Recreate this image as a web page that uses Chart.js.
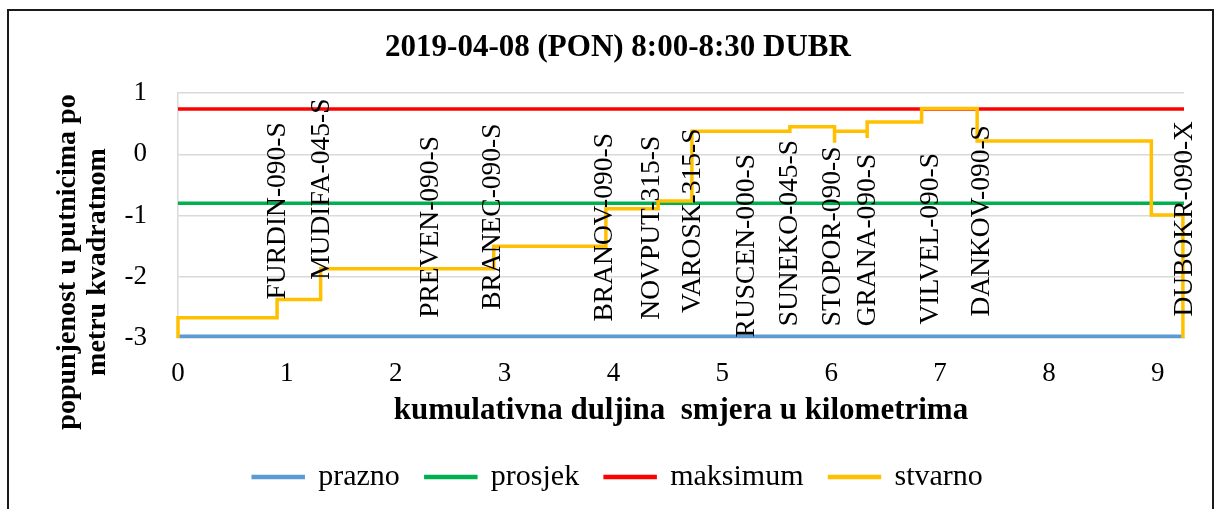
<!DOCTYPE html>
<html><head><meta charset="utf-8">
<script src="https://cdn.jsdelivr.net/npm/chart.js@4.4.1/dist/chart.umd.min.js"></script>
<style>
html,body{margin:0;padding:0;background:#fff;}
#wrap{position:relative;width:1219px;height:509px;overflow:hidden;background:#fff;}
#frame{position:absolute;left:7px;top:9px;width:1203px;height:540px;border:2px solid #1a1a1a;}
#c{position:absolute;left:0;top:0;}
</style></head><body>
<div id="wrap"><div id="frame"></div><canvas id="c" width="1219" height="509"></canvas></div>
<script>
// ---- data ----
const chartTitle = '2019-04-08 (PON) 8:00-8:30 DUBR';
const xTitle = 'kumulativna duljina  smjera u kilometrima';
const yTitle = ['popunjenost u putnicima po', 'metru kvadratnom'];
const seriesNames = ['prazno', 'prosjek', 'maksimum', 'stvarno'];
const xRange = [0, 9.24];
const prazno = [-2.97, -2.97];
const prosjek = [-0.80, -0.80];
const maksimum = [0.74, 0.74];
const stvarnoKm = [0, 0, 0.91, 1.31, 2.90, 3.93, 4.41, 4.72, 5.62, 6.03, 6.03, 6.33, 6.33, 6.83, 7.34, 8.94, 9.23];
const stvarnoVal = [-3.00, -2.67, -2.37, -1.87, -1.50, -0.89, -0.76, 0.38, 0.45, 0.19, 0.38, 0.27, 0.53, 0.75, 0.22, -0.99, -3.00];
const stations = ['FURDIN-090-S','MUDIFA-045-S','PREVEN-090-S','BRANEC-090-S','BRANOV-090-S','NOVPUT-315-S','VAROSK-315-S','RUSCEN-000-S','SUNEKO-045-S','STOPOR-090-S','GRANA-090-S','VILVEL-090-S','DANKOV-090-S','DUBOKR-090-X'];
const stationKm = [0.92, 1.32, 2.32, 2.89, 3.92, 4.35, 4.73, 5.22, 5.62, 6.01, 6.34, 6.91, 7.38, 9.25];
const stationLevel = [-2.37, -2.05, -2.67, -2.54, -2.73, -2.70, -2.59, -2.99, -2.81, -2.81, -2.81, -2.78, -2.65, -2.65];
const yTicks = [-3, -2, -1, 0, 1];
const xTicks = [0, 1, 2, 3, 4, 5, 6, 7, 8, 9];

const colors = ['#5b9bd5', '#00b050', '#ff0000', '#ffc000'];
const SERIF = '"Liberation Serif", "Times New Roman", serif';

function flat(vals) { return vals.map((v, i) => ({x: xRange[i], y: v})); }
const stvarnoPts = stvarnoKm.map((k, i) => ({x: k, y: stvarnoVal[i]}));

const stationLabels = {
  id: 'stationLabels',
  afterDatasetsDraw(chart) {
    const {ctx, scales: {x, y}} = chart;
    ctx.save();
    ctx.font = '27.5px ' + SERIF;
    ctx.fillStyle = '#000';
    ctx.textAlign = 'left';
    ctx.textBaseline = 'middle';
    stations.forEach((name, i) => {
      ctx.save();
      ctx.translate(x.getPixelForValue(stationKm[i]), y.getPixelForValue(stationLevel[i]));
      ctx.rotate(-Math.PI / 2);
      ctx.fillText(name, 0, 0);
      ctx.restore();
    });
    ctx.restore();
  }
};

const yAxisTitle = {
  id: 'yAxisTitle',
  afterDraw(chart) {
    const {ctx} = chart;
    ctx.save();
    ctx.font = 'bold 28px ' + SERIF;
    ctx.fillStyle = '#000';
    ctx.textAlign = 'center';
    ctx.textBaseline = 'middle';
    const centers = [68, 98];
    yTitle.forEach((line, i) => {
      ctx.save();
      ctx.translate(centers[i], 262);
      ctx.rotate(-Math.PI / 2);
      ctx.fillText(line, 0, 0);
      ctx.restore();
    });
    ctx.restore();
  }
};

const tickFont = {family: SERIF, size: 27};

new Chart(document.getElementById('c'), {
  type: 'line',
  data: {
    datasets: [
      {label: seriesNames[0], data: flat(prazno), borderColor: colors[0], backgroundColor: colors[0], borderWidth: 3.5, pointRadius: 0, order: 1, clip: false},
      {label: seriesNames[1], data: flat(prosjek), borderColor: colors[1], backgroundColor: colors[1], borderWidth: 3.5, pointRadius: 0, order: 1, clip: false},
      {label: seriesNames[2], data: flat(maksimum), borderColor: colors[2], backgroundColor: colors[2], borderWidth: 3.5, pointRadius: 0, order: 1, clip: false},
      {label: seriesNames[3], data: stvarnoPts, borderColor: colors[3], backgroundColor: colors[3], borderWidth: 3.5, pointRadius: 0, stepped: 'before', order: 0, clip: false}
    ]
  },
  options: {
    responsive: false,
    animation: false,
    devicePixelRatio: 1,
    layout: {padding: {left: 52, right: 35, top: 0, bottom: 7}},
    plugins: {
      title: {display: true, text: chartTitle, color: '#000', font: {family: SERIF, size: 31, weight: 'bold'}, padding: {top: 29, bottom: 27}},
      legend: {
        position: 'bottom',
        labels: {
          boxWidth: 50, boxHeight: 1, padding: 26, color: '#000',
          font: {family: SERIF, size: 30},
          sort: (a, b) => a.datasetIndex - b.datasetIndex
        }
      },
      tooltip: {enabled: false}
    },
    scales: {
      x: {
        type: 'linear', min: xRange[0], max: xRange[1],
        afterBuildTicks(s) { s.ticks = xTicks.map(v => ({value: v})); },
        ticks: {padding: 12, font: tickFont, color: '#000', maxRotation: 0, autoSkip: false},
        grid: {display: false},
        border: {display: true, color: '#d9d9d9', width: 1.5},
        title: {display: true, text: xTitle, color: '#000', font: {family: SERIF, size: 31, weight: 'bold'}, padding: {top: 0, bottom: 6}},
        afterFit(s) { s.height = 98; }
      },
      y: {
        min: -3, max: 1,
        afterBuildTicks(s) { s.ticks = yTicks.map(v => ({value: v})); },
        ticks: {padding: 31, font: tickFont, color: '#000'},
        grid: {color: '#d9d9d9', lineWidth: 1.5, drawTicks: false},
        border: {display: true, color: '#d9d9d9', width: 1.5},
        afterFit(s) { s.width = 126; }
      }
    }
  },
  plugins: [stationLabels, yAxisTitle]
});
</script></body></html>
